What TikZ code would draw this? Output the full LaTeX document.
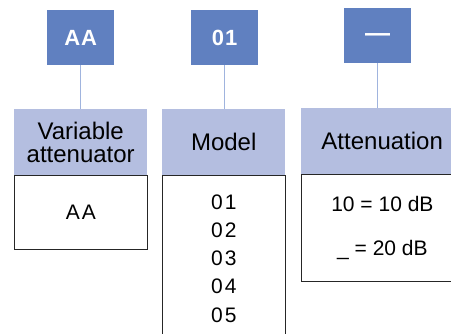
\documentclass[tikz,border=0pt]{standalone}
\usepackage{fontspec}
\setmainfont{Liberation Sans}
\usetikzlibrary{positioning}
\definecolor{codeblue}{RGB}{96,128,192}
\definecolor{headblue}{RGB}{180,190,224}
\definecolor{linkblue}{RGB}{160,180,222}

\begin{document}
\begin{tikzpicture}[x=1pt,y=-1pt,inner sep=0pt,align=center,
    code/.style={rectangle,fill=codeblue,text=white,minimum width=67pt,minimum height=55pt,anchor=north west,font=\fontsize{22}{24}\selectfont\bfseries},
    head/.style={rectangle,fill=headblue,minimum height=66pt,anchor=north west,font=\fontsize{24}{22.5}\selectfont},
    body/.style={rectangle,draw=black!85,line width=0.8pt,fill=white,anchor=north west,font=\fontsize{21}{28.3}\selectfont},
    link/.style={draw=linkblue,line width=1.2pt}]
    \clip (0,0) rectangle (451,333);

    % code boxes
      \node[code] (codeAA) at (47,10) {A\hspace{1pt}A};
      \node[code] (codeModel) at (191,10) {0\hspace{1pt}1};
      \node[code,font=\fontsize{25}{30}\selectfont\bfseries] (codeAtt) at (344,8) {\strut—};

    % headings
      \node[head,minimum width=133pt] (headVar) at (14,109) {Variable\\attenuator};
      \node[head,minimum width=123pt] (headModel) at (162,109) {Model};
      \node[head,minimum width=162pt] (headAtt) at (301,108) {Attenuation};

    % option lists
      \node[body,minimum width=133pt,minimum height=74pt] (bodyVar) at (14,175) {A\hspace{2pt}A};
      \node[body,minimum width=123pt,minimum height=166pt] (bodyModel) at (162,175)
           {0\hspace{2pt}1\\0\hspace{2pt}2\\0\hspace{2pt}3\\0\hspace{2pt}4\\0\hspace{2pt}5};
      \node[body,minimum width=162pt,minimum height=107pt] (bodyAtt) at (301,174) {10 = 10 dB\\[15pt]\_ = 20 dB};

    % connections
      \draw[link] (codeAA.south) -- (headVar.north);
      \draw[link] (codeModel.south) -- (codeModel.south |- headModel.north);
      \draw[link] (codeAtt.south) -- (codeAtt.south |- headAtt.north);

\end{tikzpicture}
\end{document}
